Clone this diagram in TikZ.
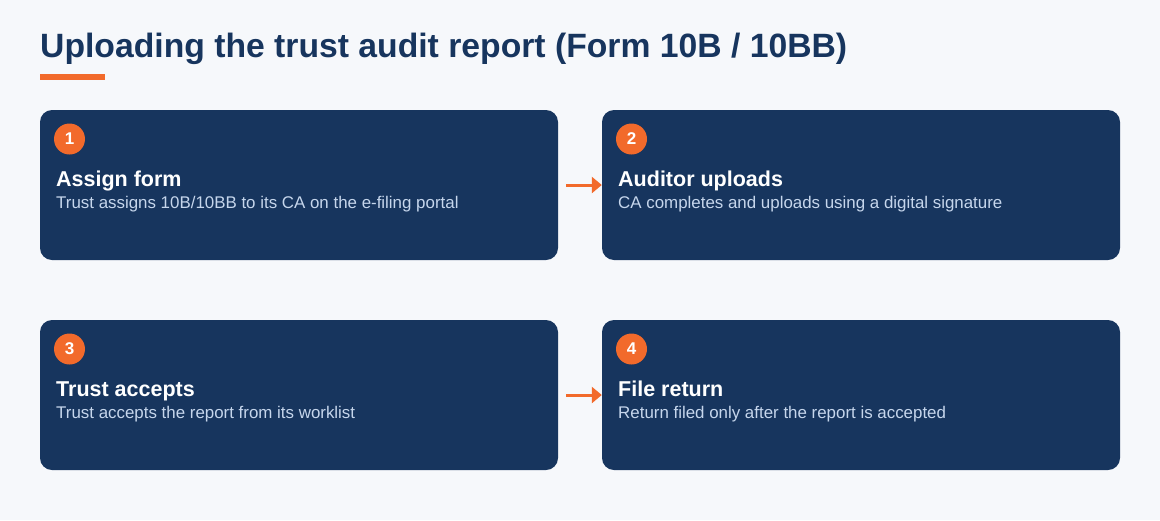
\documentclass[tikz,border=0pt]{standalone}
\usepackage{fontspec}
\setmainfont{Liberation Sans}
\usetikzlibrary{arrows.meta}
\definecolor{bgc}{HTML}{F6F8FB}
\definecolor{navy}{HTML}{17355E}
\definecolor{orng}{HTML}{F26A2B}
\definecolor{desc}{HTML}{C6D6EC}
\tikzset{
  card/.style={draw=none,fill=navy,rounded corners=12pt,minimum width=518pt,minimum height=150pt,inner sep=0pt},
  badge/.style={circle,fill=orng,minimum size=31pt,inner sep=0pt,text=white,font=\fontsize{17pt}{17pt}\selectfont\bfseries},
  head/.style={anchor=base west,inner sep=0pt,text=white,font=\fontsize{21.5pt}{21.5pt}\selectfont\bfseries},
  body/.style={anchor=base west,inner sep=0pt,text=desc,font=\fontsize{16.9pt}{16.9pt}\selectfont},
  flow/.style={draw=orng,line width=3pt,-{Triangle[length=10pt,width=16pt]},shorten <=8pt}
}
\begin{document}
\begin{tikzpicture}[x=1pt,y=-1pt]
\fill[bgc] (0,0) rectangle (1160,520);
\useasboundingbox (0,0) rectangle (1160,520);
\node[anchor=base west,inner sep=0pt,text=navy,font=\fontsize{33.7pt}{33.7pt}\selectfont\bfseries] (title) at (40,57) {Uploading the trust audit report (Form 10B / 10BB)};
\fill[orng] (40,74) rectangle (105,80);
\node[card] (b1) at (299,185) {};
\node[card] (b2) at (861,185) {};
\node[card] (b3) at (299,395) {};
\node[card] (b4) at (861,395) {};
\node[badge] (n1) at (69.5,139) {1};
\node[badge] (n2) at (631.5,139) {2};
\node[badge] (n3) at (69.5,349) {3};
\node[badge] (n4) at (631.5,349) {4};
\node[head] (h1) at (56,186) {Assign form};
\node[body] (d1) at (56,208) {Trust assigns 10B/10BB to its CA on the e-filing portal};
\node[head] (h2) at (618,186) {Auditor uploads};
\node[body] (d2) at (618,208) {CA completes and uploads using a digital signature};
\node[head] (h3) at (56,396) {Trust accepts};
\node[body] (d3) at (56,418) {Trust accepts the report from its worklist};
\node[head] (h4) at (618,396) {File return};
\node[body] (d4) at (618,418) {Return filed only after the report is accepted};
\draw[flow] (b1) -- (b2);
\draw[flow] (b3) -- (b4);
\end{tikzpicture}
\end{document}
